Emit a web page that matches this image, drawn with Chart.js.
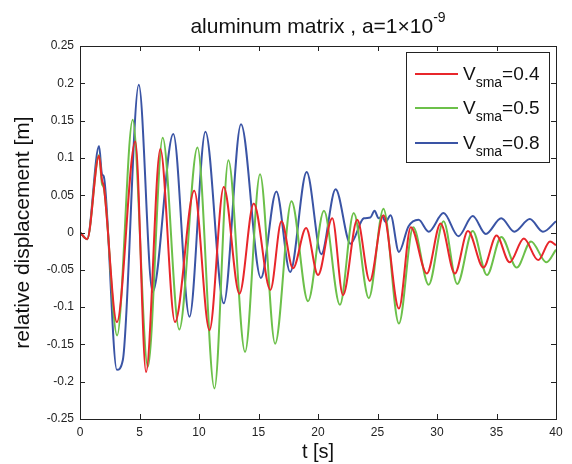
<!DOCTYPE html>
<html><head><meta charset="utf-8">
<script src="https://cdn.jsdelivr.net/npm/chart.js@4/dist/chart.umd.min.js"></script>
<style>html,body{margin:0;padding:0;background:#fff}#wrap{width:572px;height:464px}</style>
</head><body><div id="wrap"><canvas id="c" width="572" height="464"></canvas></div>
<script>
// ---- data ----
const xTickValues = [0,5,10,15,20,25,30,35,40];
const yTickValues = [-0.25,-0.2,-0.15,-0.1,-0.05,0,0.05,0.1,0.15,0.2,0.25];

const redT = [0,0.6,1.6,1.85,2.0,3.1,4.65,5.55,6.75,7.98,9.6,10.88,12.08,13.4,14.6,16.0,16.93,17.9,19.0,20.0,21.2,22.1,23.3,24.35,25.5,26.8,27.8,29.15,30.3,31.5,32.6,33.9,35.0,36.1,37.3,38.5,39.5,40];
const redV = [0,-0.009,0.103,0.07,0.062,-0.12,0.122,-0.187,0.112,-0.12,0.056,-0.131,0.061,-0.082,0.039,-0.077,0.015,-0.048,0.006,-0.057,0.019,-0.084,0.017,-0.065,0.023,-0.102,0.007,-0.055,0.012,-0.055,0.002,-0.047,-0.004,-0.04,-0.008,-0.037,-0.012,-0.017];

const greenT = [0,0.6,1.6,1.85,2.0,3.12,4.43,5.7,6.95,8.34,9.87,11.3,12.47,13.87,15.13,16.4,17.77,19.16,20.5,21.84,23.0,24.27,25.5,26.8,28.0,29.3,30.55,31.7,33.0,34.2,35.4,36.7,37.9,39.2,40];
const greenV = [0,-0.009,0.104,0.065,0.06,-0.138,0.151,-0.18,0.127,-0.13,0.114,-0.209,0.097,-0.16,0.078,-0.149,0.042,-0.092,0.029,-0.097,0.026,-0.088,0.032,-0.122,0.007,-0.07,0.015,-0.069,0.002,-0.057,-0.006,-0.047,-0.012,-0.04,-0.023];

const blueT = [0,0.6,1.6,1.85,2.0,3.1,3.6,4.94,6.1,7.84,9.2,10.54,12.08,13.53,15.2,16.5,17.66,19.05,20.28,21.48,22.73,23.85,24.4,24.75,25.1,25.4,25.67,26.1,26.8,27.6,28.45,29.3,30.55,31.8,33.0,34.1,35.4,36.5,37.8,38.9,40];
const blueV = [0,-0.009,0.116,0.078,0.075,-0.184,-0.171,0.198,-0.08,0.132,-0.113,0.135,-0.095,0.145,-0.061,0.055,-0.053,0.081,-0.029,0.058,-0.015,0.019,0.02,0.029,0.019,0.022,0.014,0.023,-0.026,0.008,0.017,0.001,0.026,-0.005,0.022,-0.002,0.019,0.001,0.018,0.001,0.015];

const seriesNames = ['0.4','0.5','0.8'];
const seriesColors = ['#e8262b','#6cc04a','#3a54a5'];

const FONT = '"Liberation Sans", Arial, Helvetica, sans-serif';
const pts = (T,V) => T.map((t,i)=>({x:t,y:V[i]}));

function drawSub(ctx, x, y, main, sub, rest, size, subSize, subDy){
  ctx.font = size+'px '+FONT; ctx.textAlign='left'; ctx.textBaseline='alphabetic';
  ctx.fillText(main, x, y); x += ctx.measureText(main).width;
  ctx.font = subSize+'px '+FONT; ctx.fillText(sub, x, y+subDy); x += ctx.measureText(sub).width;
  ctx.font = size+'px '+FONT; ctx.fillText(rest, x, y);
}

const deco = {
  id:'deco',
  afterDraw(chart){
    const ctx = chart.ctx, a = chart.chartArea, xs = chart.scales.x, ys = chart.scales.y;
    ctx.save();
    ctx.strokeStyle='#222'; ctx.lineWidth=1;
    ctx.strokeRect(Math.round(a.left)+0.5, Math.round(a.top)+0.5, Math.round(a.right-a.left), Math.round(a.bottom-a.top));
    ctx.beginPath();
    xTickValues.forEach(v=>{const p=Math.round(xs.getPixelForValue(v))+0.5;
      ctx.moveTo(p,a.bottom); ctx.lineTo(p,a.bottom-5); ctx.moveTo(p,a.top); ctx.lineTo(p,a.top+5);});
    yTickValues.forEach(v=>{const p=Math.round(ys.getPixelForValue(v))+0.5;
      ctx.moveTo(a.left,p); ctx.lineTo(a.left+5,p); ctx.moveTo(a.right,p); ctx.lineTo(a.right-5,p);});
    ctx.stroke();
    ctx.fillStyle='#111';
    // title with superscript
    const t1='aluminum matrix , a=1\u00d710', t2='-9';
    ctx.font='21px '+FONT; const w1=ctx.measureText(t1).width;
    ctx.font='14px '+FONT; const w2=ctx.measureText(t2).width;
    let tx=(a.left+a.right)/2-(w1+w2)/2;
    ctx.textAlign='left'; ctx.textBaseline='alphabetic';
    ctx.font='21px '+FONT; ctx.fillText(t1,tx,33);
    ctx.font='14px '+FONT; ctx.fillText(t2,tx+w1,22);
    // axis titles
    ctx.font='20px '+FONT; ctx.textAlign='center'; ctx.textBaseline='middle';
    ctx.fillText('t [s]',(a.left+a.right)/2,452);
    ctx.save(); ctx.translate(23,(a.top+a.bottom)/2); ctx.rotate(-Math.PI/2);
    ctx.font='21px '+FONT;
    ctx.fillText('relative displacement [m]',0,0); ctx.restore();
    // legend
    const lx=406, ly=52, lw=143, lh=110;
    ctx.fillStyle='#fff'; ctx.fillRect(lx,ly,lw,lh);
    ctx.strokeStyle='#222'; ctx.lineWidth=1; ctx.strokeRect(lx+0.5,ly+0.5,lw,lh);
    const rows=[74,108,143];
    rows.forEach((yy,i)=>{
      ctx.strokeStyle=seriesColors[i]; ctx.lineWidth=2;
      ctx.beginPath(); ctx.moveTo(415,yy); ctx.lineTo(458,yy); ctx.stroke();
      ctx.fillStyle='#111';
      drawSub(ctx,463,yy+6,'V','sma','='+seriesNames[i],19,14,7);
    });
    ctx.restore();
  }
};

new Chart(document.getElementById('c'),{
  type:'line',
  data:{datasets:[
    {label:'V_sma=0.4',data:pts(redT,redV),borderColor:seriesColors[0]},
    {label:'V_sma=0.5',data:pts(greenT,greenV),borderColor:seriesColors[1]},
    {label:'V_sma=0.8',data:pts(blueT,blueV),borderColor:seriesColors[2]}
  ].map(d=>Object.assign(d,{borderWidth:2,pointRadius:0,fill:false,cubicInterpolationMode:'monotone'}))},
  options:{
    responsive:false,animation:false,devicePixelRatio:1,
    layout:{padding:{top:46,right:16,left:0,bottom:0}},
    plugins:{legend:{display:false},tooltip:{enabled:false},title:{display:false}},
    scales:{
      x:{type:'linear',min:0,max:40,
        afterBuildTicks:s=>{s.ticks=xTickValues.map(v=>({value:v}));},
        afterFit:s=>{s.height=45;},
        grid:{display:false,drawTicks:false},border:{display:false},
        ticks:{font:{family:FONT,size:12},color:'#222',padding:6,maxRotation:0}},
      y:{type:'linear',min:-0.25,max:0.25,
        afterBuildTicks:s=>{s.ticks=yTickValues.map(v=>({value:v}));},
        afterFit:s=>{s.width=80;},
        grid:{display:false,drawTicks:false},border:{display:false},
        ticks:{font:{family:FONT,size:12},color:'#222',padding:6,callback:v=>String(Number(v.toFixed(2)))}}
    }
  },
  plugins:[deco]
});
</script></body></html>
